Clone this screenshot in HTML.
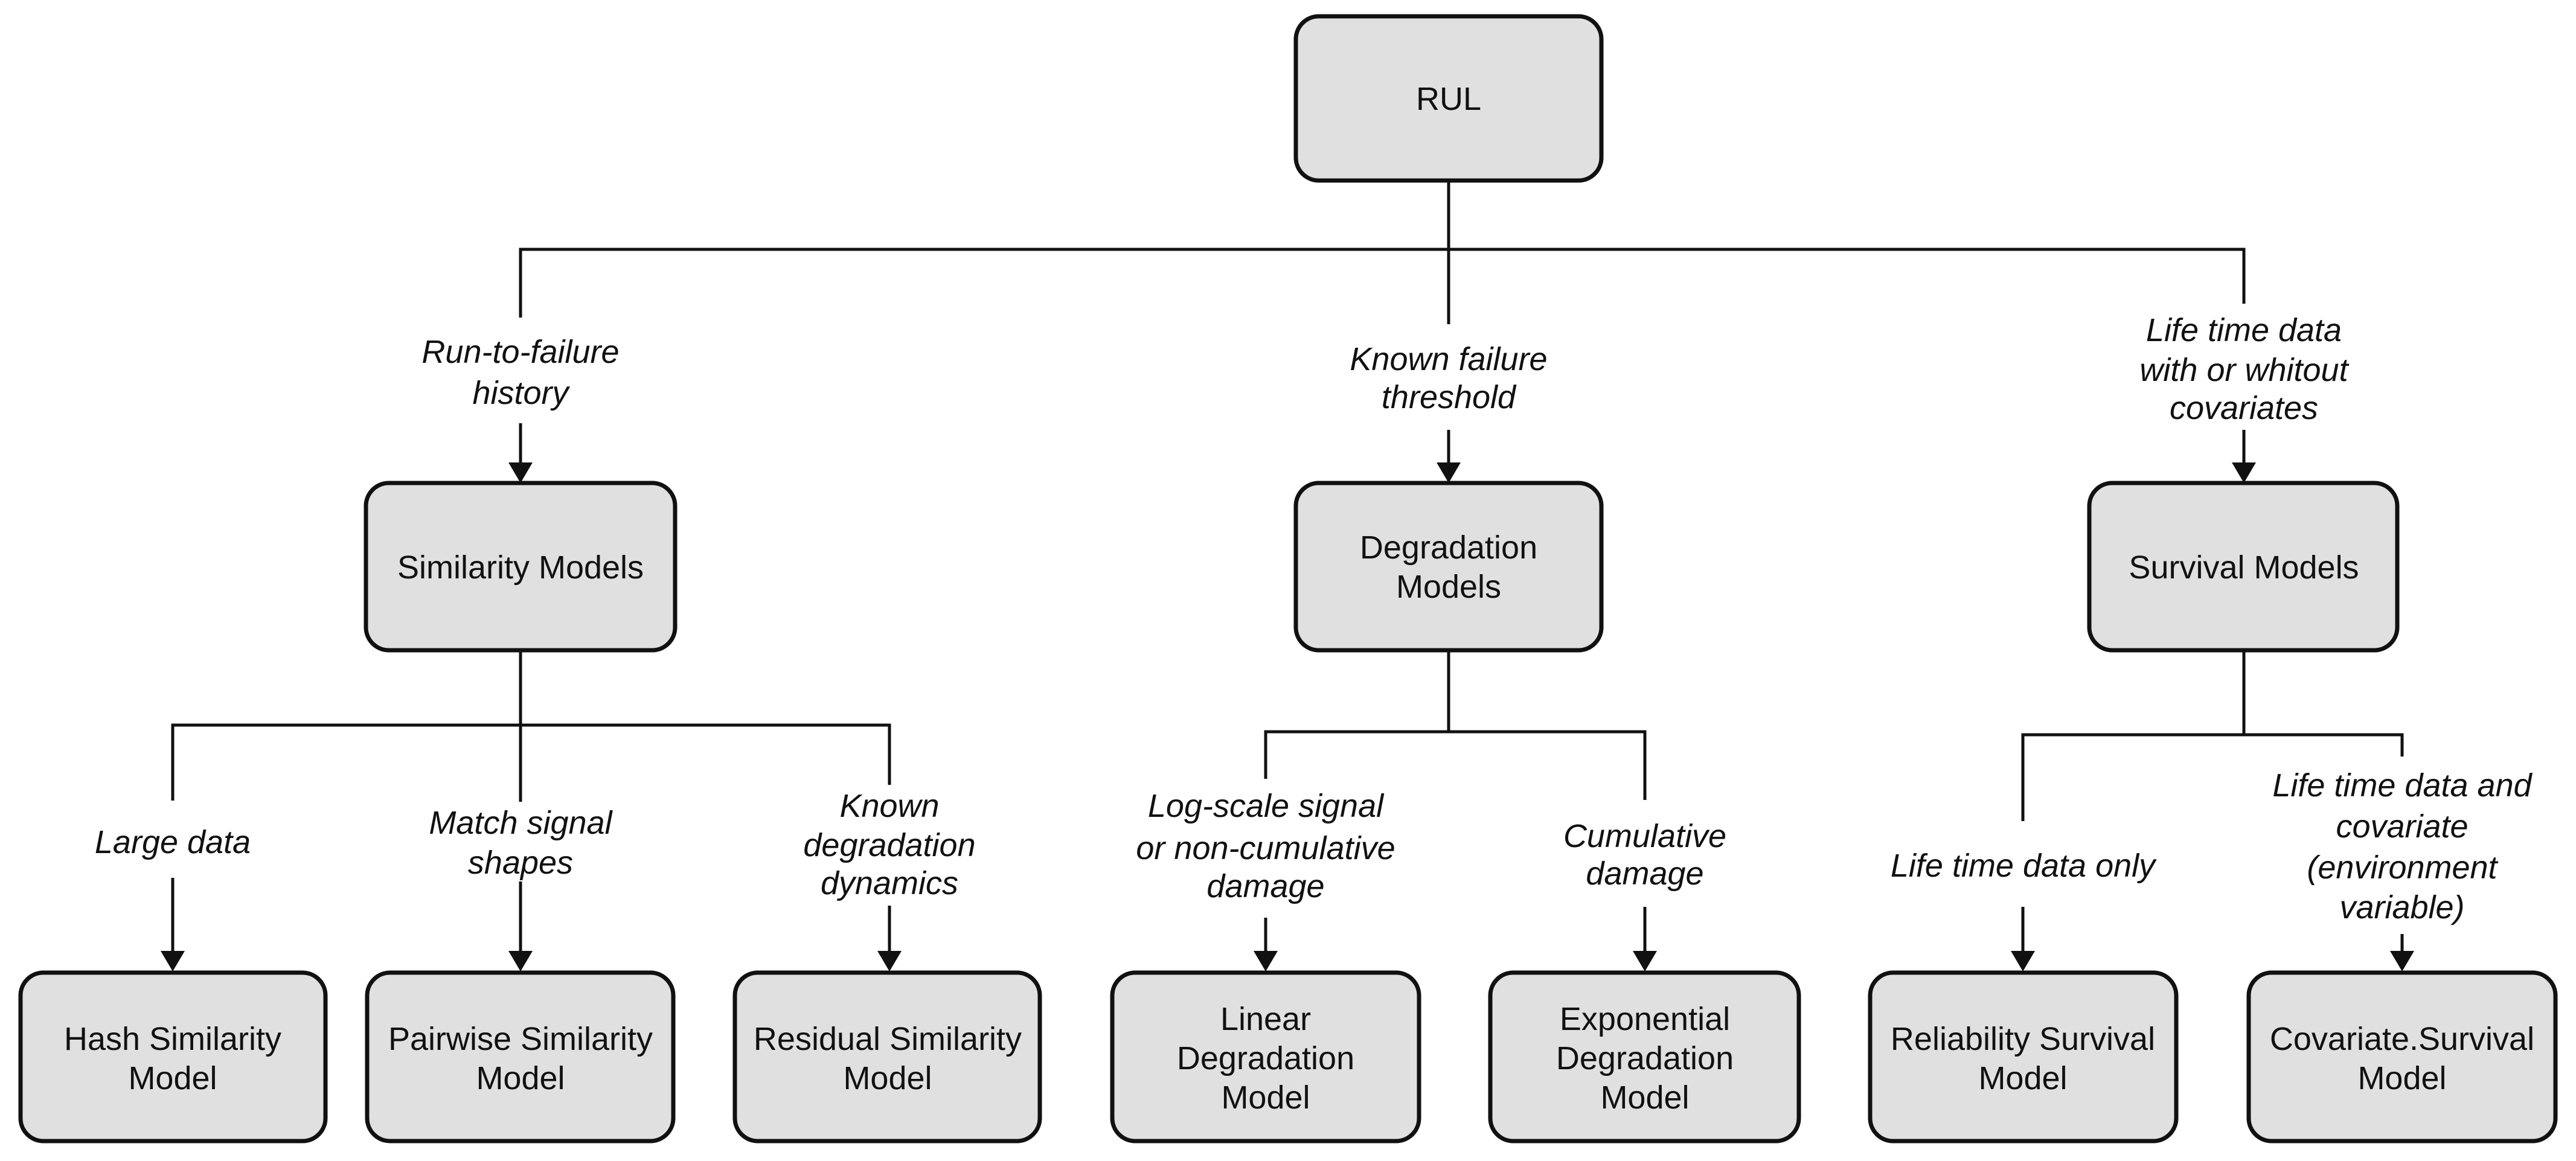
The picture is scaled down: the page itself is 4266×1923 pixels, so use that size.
<!DOCTYPE html>
<html><head><meta charset="utf-8"><style>
html,body{margin:0;padding:0;background:#fff;}
svg{display:block}
text{font-family:"Liberation Sans",Arial,sans-serif;font-size:54px;fill:#111;text-anchor:middle}
.l{font-style:italic}
rect{fill:#e0e0e0;stroke:#111;stroke-width:7}
line,polyline{stroke:#111;stroke-width:5;fill:none}
polygon{fill:#111}
</style></head><body>
<svg width="4266" height="1923" viewBox="0 0 4266 1923" xmlns="http://www.w3.org/2000/svg">
<!-- top level -->
<rect x="2146" y="27" width="506" height="272" rx="38"/>
<text x="2399" y="182">RUL</text>
<line x1="2399" y1="299" x2="2399" y2="537"/>
<polyline points="862,526 862,413 3716,413 3716,503"/>
<line x1="2399" y1="712" x2="2399" y2="768"/>
<polygon points="2379,766 2419,766 2399,800"/>
<line x1="862" y1="701" x2="862" y2="768"/>
<polygon points="842,766 882,766 862,800"/>
<line x1="3716" y1="712" x2="3716" y2="768"/>
<polygon points="3696,766 3736,766 3716,800"/>
<text class="l" x="862" y="601">Run-to-failure</text>
<text class="l" x="862" y="669">history</text>
<text class="l" x="2399" y="613">Known failure</text>
<text class="l" x="2399" y="676">threshold</text>
<text class="l" x="3716" y="565">Life time data</text>
<text class="l" x="3716" y="631">with or whitout</text>
<text class="l" x="3716" y="694">covariates</text>
<!-- level 2 -->
<rect x="606" y="800" width="512" height="277" rx="38"/>
<text x="862" y="958">Similarity Models</text>
<rect x="2146" y="800" width="506" height="277" rx="38"/>
<text x="2399" y="925">Degradation</text>
<text x="2399" y="990">Models</text>
<rect x="3460" y="800" width="510" height="277" rx="38"/>
<text x="3716" y="958">Survival Models</text>
<!-- similarity branch -->
<line x1="862" y1="1077" x2="862" y2="1328"/>
<polyline points="286,1326 286,1201 1473,1201 1473,1300"/>
<line x1="286" y1="1454" x2="286" y2="1577"/>
<polygon points="266,1575 306,1575 286,1609"/>
<line x1="862" y1="1460" x2="862" y2="1577"/>
<polygon points="842,1575 882,1575 862,1609"/>
<line x1="1473" y1="1500" x2="1473" y2="1577"/>
<polygon points="1453,1575 1493,1575 1473,1609"/>
<text class="l" x="286" y="1413">Large data</text>
<text class="l" x="862" y="1381">Match signal</text>
<text class="l" x="862" y="1447">shapes</text>
<text class="l" x="1473" y="1353">Known</text>
<text class="l" x="1473" y="1418">degradation</text>
<text class="l" x="1473" y="1481">dynamics</text>
<!-- degradation branch -->
<polyline points="2399,1077 2399,1212"/>
<polyline points="2096,1290 2096,1212 2724,1212 2724,1325"/>
<line x1="2096" y1="1520" x2="2096" y2="1577"/>
<polygon points="2076,1575 2116,1575 2096,1609"/>
<line x1="2724" y1="1502" x2="2724" y2="1577"/>
<polygon points="2704,1575 2744,1575 2724,1609"/>
<text class="l" x="2096" y="1353">Log-scale signal</text>
<text class="l" x="2096" y="1423">or non-cumulative</text>
<text class="l" x="2096" y="1486">damage</text>
<text class="l" x="2724" y="1403">Cumulative</text>
<text class="l" x="2724" y="1465">damage</text>
<!-- survival branch -->
<polyline points="3716,1077 3716,1217"/>
<polyline points="3350,1360 3350,1217 3978,1217 3978,1253"/>
<line x1="3350" y1="1502" x2="3350" y2="1577"/>
<polygon points="3330,1575 3370,1575 3350,1609"/>
<line x1="3978" y1="1547" x2="3978" y2="1577"/>
<polygon points="3958,1575 3998,1575 3978,1609"/>
<text class="l" x="3350" y="1452">Life time data only</text>
<text class="l" x="3978" y="1319">Life time data and</text>
<text class="l" x="3978" y="1387">covariate</text>
<text class="l" x="3978" y="1455">(environment</text>
<text class="l" x="3978" y="1521">variable)</text>
<!-- level 3 -->
<rect x="34" y="1611" width="505" height="279" rx="38"/>
<text x="286" y="1739">Hash Similarity</text>
<text x="286" y="1804">Model</text>
<rect x="608" y="1611" width="507" height="279" rx="38"/>
<text x="862" y="1739">Pairwise Similarity</text>
<text x="862" y="1804">Model</text>
<rect x="1217" y="1611" width="505" height="279" rx="38"/>
<text x="1470" y="1739">Residual Similarity</text>
<text x="1470" y="1804">Model</text>
<rect x="1842" y="1611" width="508" height="279" rx="38"/>
<text x="2096" y="1706">Linear</text>
<text x="2096" y="1771">Degradation</text>
<text x="2096" y="1836">Model</text>
<rect x="2468" y="1611" width="511" height="279" rx="38"/>
<text x="2724" y="1706">Exponential</text>
<text x="2724" y="1771">Degradation</text>
<text x="2724" y="1836">Model</text>
<rect x="3097" y="1611" width="507" height="279" rx="38"/>
<text x="3350" y="1739">Reliability Survival</text>
<text x="3350" y="1804">Model</text>
<rect x="3724" y="1611" width="508" height="279" rx="38"/>
<text x="3978" y="1739">Covariate.Survival</text>
<text x="3978" y="1804">Model</text>
</svg>
</body></html>
